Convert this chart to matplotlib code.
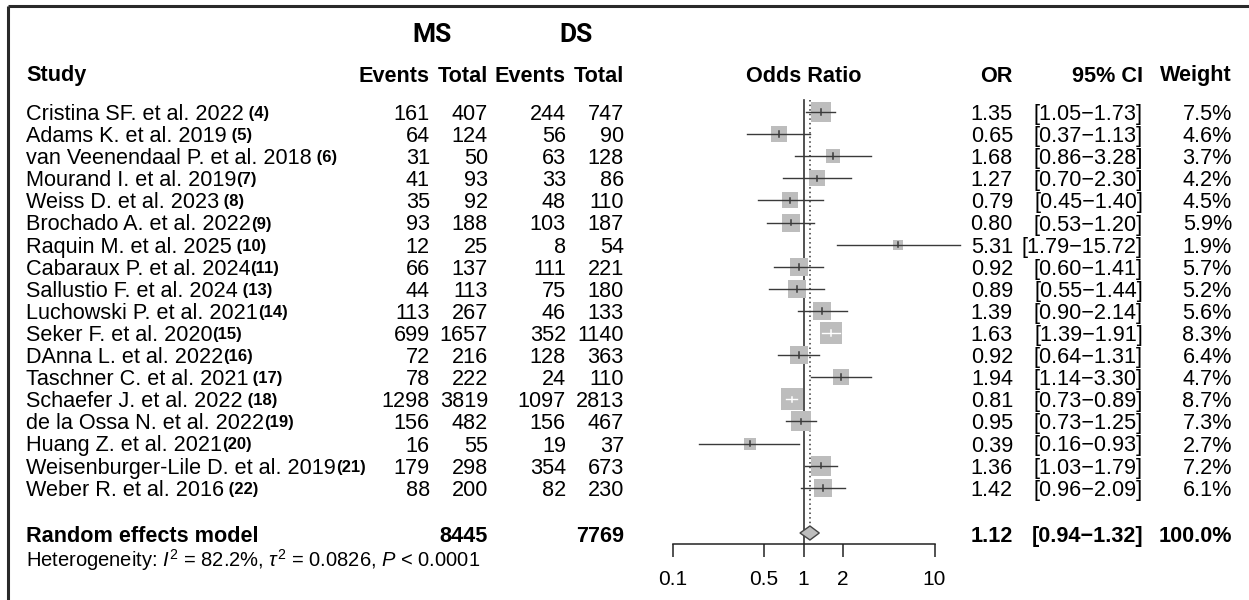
import matplotlib
matplotlib.use('Agg')
import matplotlib.pyplot as plt
from matplotlib.patches import Polygon
import numpy as np

# ---------------- data ----------------
studies = ["Cristina SF. et al. 2022", "Adams K. et al. 2019", "van Veenendaal P. et al. 2018",
           "Mourand I. et al. 2019", "Weiss D. et al. 2023", "Brochado A. et al. 2022",
           "Raquin M. et al. 2025", "Cabaraux P. et al. 2024", "Sallustio F. et al. 2024",
           "Luchowski P. et al. 2021", "Seker F. et al. 2020", "DAnna L. et al. 2022",
           "Taschner C. et al. 2021", "Schaefer J. et al. 2022", "de la Ossa N. et al. 2022",
           "Huang Z. et al. 2021", "Weisenburger-Lile D. et al. 2019", "Weber R. et al. 2016"]
refs = [" (4)", " (5)", " (6)", "(7)", " (8)", "(9)", " (10)", "(11)", " (13)", "(14)",
        "(15)", "(16)", " (17)", " (18)", "(19)", "(20)", "(21)", " (22)"]
ms_events = [161, 64, 31, 41, 35, 93, 12, 66, 44, 113, 699, 72, 78, 1298, 156, 16, 179, 88]
ms_total = [407, 124, 50, 93, 92, 188, 25, 137, 113, 267, 1657, 216, 222, 3819, 482, 55, 298, 200]
ds_events = [244, 56, 63, 33, 48, 103, 8, 111, 75, 46, 352, 128, 24, 1097, 156, 19, 354, 82]
ds_total = [747, 90, 128, 86, 110, 187, 54, 221, 180, 133, 1140, 363, 110, 2813, 467, 37, 673, 230]
odds = [1.35, 0.65, 1.68, 1.27, 0.79, 0.80, 5.31, 0.92, 0.89, 1.39, 1.63, 0.92, 1.94, 0.81, 0.95, 0.39, 1.36, 1.42]
ci_lo = [1.05, 0.37, 0.86, 0.70, 0.45, 0.53, 1.79, 0.60, 0.55, 0.90, 1.39, 0.64, 1.14, 0.73, 0.73, 0.16, 1.03, 0.96]
ci_hi = [1.73, 1.13, 3.28, 2.30, 1.40, 1.20, 15.72, 1.41, 1.44, 2.14, 1.91, 1.31, 3.30, 0.89, 1.25, 0.93, 1.79, 2.09]
weights = [7.5, 4.6, 3.7, 4.2, 4.5, 5.9, 1.9, 5.7, 5.2, 5.6, 8.3, 6.4, 4.7, 8.7, 7.3, 2.7, 7.2, 6.1]

pooled_ms_total = 8445
pooled_ds_total = 7769
pooled_or, pooled_lo, pooled_hi = 1.12, 0.94, 1.32
het_i2, het_tau2, het_p = "82.2%", "0.0826", "0.0001"

xticks = [0.1, 0.5, 1, 2, 10]
xtick_labels = ["0.1", "0.5", "1", "2", "10"]

# ---------------- style ----------------
plt.rcParams['font.family'] = ['Liberation Sans', 'DejaVu Sans']
plt.rcParams['mathtext.fontset'] = 'custom'
plt.rcParams['mathtext.rm'] = 'Liberation Sans'
plt.rcParams['mathtext.it'] = 'Liberation Sans:italic'
plt.rcParams['mathtext.bf'] = 'Liberation Sans:bold'

W, H = 1249, 600
FS = 15.6
BOX = '#bdbdbd'
LINE = '#3a3a3a'

fig = plt.figure(figsize=(W / 100, H / 100), dpi=100)
ax = fig.add_axes([0, 0, 1, 1])
ax.set_xlim(0, W)
ax.set_ylim(H, 0)
ax.axis('off')

n = len(studies)
y0, dy = 112, 22.1
row_y = y0 + dy * np.arange(n)
y_re, y_het, y_head, y_grp = 534, 557, 76, 35
x_study = 26
x_e1, x_t1, x_e2, x_t2 = 430, 488, 566, 624
x_or, x_ci, x_w = 1013, 1143, 1232
x_ms, x_ds = 432, 576

# frame
ax.plot([8, W], [6, 6], color='#2a2a2a', lw=2.2, solid_capstyle='butt')
ax.plot([8, 8], [6, H], color='#2a2a2a', lw=2.2, solid_capstyle='butt')

# headers
hb = dict(fontsize=FS, fontweight='bold', va='center')
ax.text(x_ms, y_grp, "MS", ha='center', va='center', fontsize=19, fontweight='bold',
        family=['Roboto', 'Liberation Sans'])
ax.text(x_ds, y_grp, "DS", ha='center', va='center', fontsize=19, fontweight='bold',
        family=['Roboto', 'Liberation Sans'])
ax.text(x_study, y_head, "Study", ha='left', **hb)
ax.text(x_e1, y_head, "Events", ha='right', **hb)
ax.text(x_t1, y_head, "Total", ha='right', **hb)
ax.text(x_e2, y_head, "Events", ha='right', **hb)
ax.text(x_t2, y_head, "Total", ha='right', **hb)
ax.text(804, y_head, "Odds Ratio", ha='center', **hb)
ax.text(x_or, y_head, "OR", ha='right', **hb)
ax.text(x_ci, y_head, "95% CI", ha='right', **hb)
ax.text(x_w, y_head, "Weight", ha='right', **hb)

# study rows
fig.canvas.draw()
renderer = fig.canvas.get_renderer()
for i in range(n):
    y = row_y[i]
    t = ax.text(x_study, y, studies[i], ha='left', va='center_baseline', fontsize=FS)
    bb = t.get_window_extent(renderer)
    ax.text(bb.x1, y, refs[i], ha='left', va='center_baseline', fontsize=12, fontweight='bold',
            family=['Liberation Sans Narrow', 'Liberation Sans'])
    ax.text(x_e1, y, f"{ms_events[i]}", ha='right', va='center_baseline', fontsize=FS)
    ax.text(x_t1, y, f"{ms_total[i]}", ha='right', va='center_baseline', fontsize=FS)
    ax.text(x_e2, y, f"{ds_events[i]}", ha='right', va='center_baseline', fontsize=FS)
    ax.text(x_t2, y, f"{ds_total[i]}", ha='right', va='center_baseline', fontsize=FS)
    ax.text(x_or, y, f"{odds[i]:.2f}", ha='right', va='center_baseline', fontsize=FS)
    ax.text(x_ci, y, f"[{ci_lo[i]:.2f}\u2212{ci_hi[i]:.2f}]", ha='right', va='center_baseline', fontsize=FS)
    ax.text(x_w, y, f"{weights[i]:.1f}%", ha='right', va='center_baseline', fontsize=FS)

# pooled row
pb = dict(fontsize=FS, fontweight='bold', va='center_baseline')
ax.text(x_study, y_re, "Random effects model", ha='left', **pb)
ax.text(x_t1, y_re, f"{pooled_ms_total}", ha='right', **pb)
ax.text(x_t2, y_re, f"{pooled_ds_total}", ha='right', **pb)
ax.text(x_or, y_re, f"{pooled_or:.2f}", ha='right', **pb)
ax.text(x_ci, y_re, f"[{pooled_lo:.2f}\u2212{pooled_hi:.2f}]", ha='right', **pb)
ax.text(x_w, y_re, "100.0%", ha='right', **pb)
ax.text(x_study, y_het,
        "Heterogeneity: $\\mathit{I}^2$ = " + het_i2 + ", $\\tau^2$ = " + het_tau2
        + ", $\\mathit{P}$ < " + het_p,
        ha='left', va='center_baseline', fontsize=14.5)

# ---------------- forest panel ----------------
fx0, fx1 = 672.5, 934.5
axis_y, top_y = 544, 95
fax = fig.add_axes([fx0 / W, (H - axis_y) / H, (fx1 - fx0) / W, (axis_y - top_y) / H])
fax.set_xscale('log')
fax.set_xlim(0.1, 10)
fax.set_ylim(axis_y, top_y)
fax.patch.set_visible(False)
for s in ['top', 'left', 'right']:
    fax.spines[s].set_visible(False)
fax.spines['bottom'].set_linewidth(1.1)
fax.spines['bottom'].set_color('#222222')
fax.set_xticks(xticks)
fax.set_xticklabels(xtick_labels)
fax.xaxis.set_minor_locator(matplotlib.ticker.NullLocator())
fax.tick_params(axis='x', direction='out', length=9, width=1.1, color='#222222',
                labelsize=15, pad=10)
fax.set_yticks([])

line_top = row_y[0] - 12
fax.plot([1, 1], [line_top, axis_y], color='#333333', lw=1.2, zorder=1)
fax.plot([pooled_or, pooled_or], [line_top, y_re - 8], color='#333333', lw=1.1,
         ls=(0, (1, 2)), zorder=1)

k = 7.46  # box side in px per sqrt(weight %)
trans = fax.transData
for i in range(n):
    y = row_y[i]
    side = k * np.sqrt(weights[i])
    fax.scatter([odds[i]], [y], marker='s', s=(side * 0.72) ** 2, color=BOX, linewidths=0, zorder=2)
    xl = trans.transform((ci_lo[i], y))[0]
    xh = trans.transform((ci_hi[i], y))[0]
    col = 'white' if (xh - xl) < side else LINE
    fax.plot([ci_lo[i], ci_hi[i]], [y, y], color=col, lw=1.0, zorder=3, clip_on=False)
    fax.plot([odds[i], odds[i]], [y - 2.8, y + 2.8], color=col, lw=1.1, zorder=3)

dia = Polygon([[pooled_lo, y_re - 1], [pooled_or, y_re - 8], [pooled_hi, y_re - 1], [pooled_or, y_re + 6]],
              closed=True, facecolor=BOX, edgecolor='#444444', lw=1.0, zorder=3)
fax.add_patch(dia)

fig.savefig('out.png', dpi=100)
